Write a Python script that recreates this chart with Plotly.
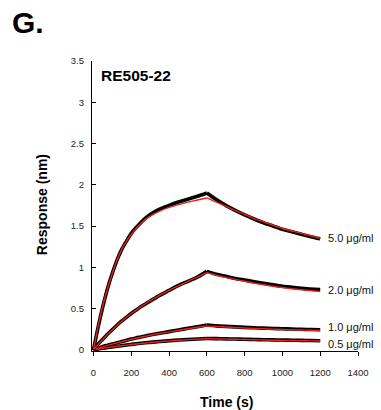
import plotly.graph_objects as go

# Time points (s)
time_s = [0, 25, 50, 75, 100, 125, 150, 175, 200, 225, 250, 275, 300, 350, 400, 450, 500, 550, 600,
          650, 700, 750, 800, 850, 900, 950, 1000, 1050, 1100, 1150, 1200]

# Measured responses (nm) – black
data_5_0 = [0, 0.28, 0.53, 0.75, 0.93, 1.09, 1.22, 1.32, 1.41, 1.48, 1.54, 1.595, 1.64, 1.705, 1.75, 1.79, 1.825, 1.86, 1.90,
            1.82, 1.75, 1.69, 1.635, 1.585, 1.54, 1.50, 1.46, 1.43, 1.40, 1.37, 1.345]
data_2_0 = [0, 0.07, 0.13, 0.19, 0.245, 0.30, 0.35, 0.395, 0.44, 0.48, 0.52, 0.555, 0.59, 0.66, 0.72, 0.78, 0.83, 0.88, 0.95,
            0.915, 0.89, 0.865, 0.845, 0.825, 0.805, 0.787, 0.77, 0.757, 0.745, 0.735, 0.73]
data_1_0 = [0, 0.02, 0.04, 0.055, 0.07, 0.085, 0.10, 0.115, 0.13, 0.143, 0.155, 0.168, 0.18, 0.20, 0.22, 0.24, 0.26, 0.28, 0.30,
            0.29, 0.283, 0.277, 0.271, 0.266, 0.262, 0.258, 0.255, 0.251, 0.248, 0.245, 0.243]
data_0_5 = [0, 0.01, 0.018, 0.027, 0.035, 0.043, 0.05, 0.058, 0.065, 0.072, 0.078, 0.084, 0.09, 0.10, 0.11, 0.118, 0.125, 0.131, 0.137,
            0.135, 0.132, 0.13, 0.127, 0.125, 0.122, 0.12, 0.118, 0.116, 0.114, 0.112, 0.11]

# Fitted curves (nm) – red
fit_5_0 = [0, 0.29, 0.54, 0.75, 0.93, 1.09, 1.22, 1.32, 1.40, 1.47, 1.53, 1.58, 1.62, 1.68, 1.725, 1.76, 1.79, 1.815, 1.84,
           1.79, 1.74, 1.69, 1.64, 1.59, 1.55, 1.51, 1.47, 1.44, 1.41, 1.38, 1.35]
fit_2_0 = [0, 0.065, 0.128, 0.187, 0.243, 0.297, 0.348, 0.395, 0.44, 0.48, 0.52, 0.558, 0.595, 0.66, 0.72, 0.775, 0.83, 0.88, 0.935,
           0.905, 0.878, 0.853, 0.83, 0.808, 0.788, 0.77, 0.755, 0.74, 0.727, 0.717, 0.707]
fit_1_0 = [0, 0.02, 0.038, 0.054, 0.069, 0.084, 0.099, 0.113, 0.127, 0.14, 0.152, 0.164, 0.176, 0.197, 0.217, 0.236, 0.255, 0.273, 0.29,
           0.283, 0.276, 0.27, 0.264, 0.259, 0.254, 0.25, 0.246, 0.242, 0.239, 0.237, 0.235]
fit_0_5 = [0, 0.01, 0.018, 0.026, 0.034, 0.042, 0.049, 0.056, 0.063, 0.07, 0.076, 0.082, 0.088, 0.098, 0.108, 0.116, 0.123, 0.129, 0.134,
           0.132, 0.129, 0.127, 0.124, 0.121, 0.119, 0.116, 0.114, 0.112, 0.11, 0.108, 0.106]

conc_labels = ["5.0 μg/ml", "2.0 μg/ml", "1.0 μg/ml", "0.5 μg/ml"]
label_y = [1.35, 0.726, 0.278, 0.073]

x_ticks = [0, 200, 400, 600, 800, 1000, 1200, 1400]
y_ticks = [0, 0.5, 1, 1.5, 2, 2.5, 3, 3.5]
y_ticktext = ["0", "0.5", "1", "1.5", "2", "2.5", "3", "3.5"]

FONT = "Liberation Sans, Arial, sans-serif"
i_peak = time_s.index(600)

fig = go.Figure()


def add_curve(vals, color, width):
    # association and dissociation phases drawn as separate smooth segments
    for sl in (slice(0, i_peak + 1), slice(i_peak, None)):
        fig.add_trace(go.Scatter(x=time_s[sl], y=vals[sl], mode="lines",
                                 line=dict(color=color, width=width, shape="spline", smoothing=0.8),
                                 showlegend=False, hoverinfo="skip"))


for d in [data_5_0, data_2_0, data_1_0, data_0_5]:
    add_curve(d, "black", 3.6)
for f in [fit_5_0, fit_2_0, fit_1_0, fit_0_5]:
    add_curve(f, "#e8201c", 1.4)

annotations = []
for lab, yv in zip(conc_labels, label_y):
    annotations.append(dict(x=1200, y=yv, xref="x", yref="y", text=lab, showarrow=False,
                            xanchor="left", yanchor="middle", xshift=6,
                            font=dict(family=FONT, size=11, color="#111")))
annotations += [
    dict(x=-0.307, y=1, xref="paper", yref="paper", text="<b>G.</b>", showarrow=False,
         xanchor="left", yanchor="middle", yshift=61 - 22,
         font=dict(family=FONT, size=30, color="black")),
    dict(x=0.028, y=1, xref="paper", yref="paper", text="<b>RE505-22</b>", showarrow=False,
         xanchor="left", yanchor="middle", yshift=-14.5,
         font=dict(family=FONT, size=15.5, color="black")),
    dict(x=0.504, y=0, xref="paper", yref="paper", text="<b>Time (s)</b>", showarrow=False,
         xanchor="center", yanchor="middle", yshift=-50.5,
         font=dict(family=FONT, size=14, color="black")),
    dict(x=0, y=0.503, xref="paper", yref="paper", text="<b>Response (nm)</b>", showarrow=False,
         xanchor="center", yanchor="middle", xshift=-50, textangle=-90,
         font=dict(family=FONT, size=14, color="black")),
]

fig.update_layout(
    width=381, height=410,
    margin=dict(l=92, r=12, t=61, b=59),
    paper_bgcolor="white", plot_bgcolor="white",
    font=dict(family=FONT, size=9, color="#222"),
    annotations=annotations,
    xaxis=dict(range=[-8, 1400], tickvals=x_ticks, ticks="outside", ticklen=4, tickwidth=1,
               tickcolor="black", showline=True, linecolor="black", linewidth=1.2,
               showgrid=False, zeroline=False, ticklabelstandoff=8,
               tickfont=dict(family=FONT, size=9.5, color="#222")),
    yaxis=dict(range=[-0.015, 3.5], tickvals=y_ticks, ticktext=y_ticktext, ticks="inside",
               ticklen=4, tickwidth=1, tickcolor="black", showline=True, linecolor="black",
               linewidth=1.2, showgrid=False, zeroline=False, ticklabelstandoff=5,
               tickfont=dict(family=FONT, size=9.5, color="#222")),
)

fig.write_html("out.html", config={"displayModeBar": False},
               post_script="document.body.style.margin='0';document.body.style.overflow='hidden';")
